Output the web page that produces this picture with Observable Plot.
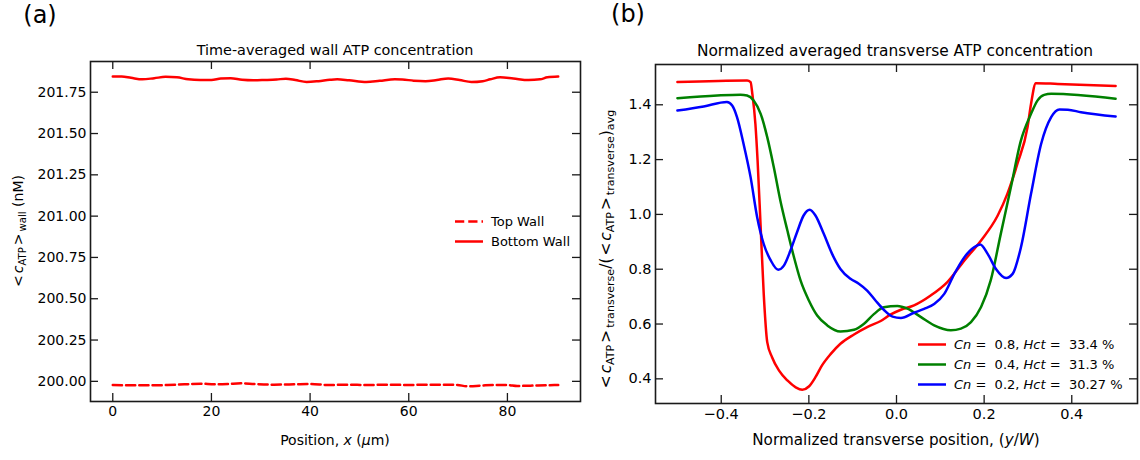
<!DOCTYPE html>
<html><head><meta charset="utf-8">
<script src="https://cdn.jsdelivr.net/npm/d3@7"></script>
<script src="https://cdn.jsdelivr.net/npm/@observablehq/plot@0.6"></script>
<style>
body{margin:0;background:#fff;font-family:"DejaVu Sans",sans-serif;color:#000;}
#wrap{position:relative;width:1140px;height:460px;overflow:hidden;background:#fff;}
.panel{position:absolute;top:0;}
.t{position:absolute;white-space:nowrap;transform:translate(-50%,-50%);line-height:1;}
.rot{transform:translate(-50%,-50%) rotate(-90deg);}
.leg{position:absolute;white-space:nowrap;font-size:13px;line-height:1;display:flex;align-items:center;transform:translateY(-50%);}
.leg svg{margin-right:8px;}
sub{font-size:0.72em;vertical-align:-0.28em;line-height:0;}
.rel{margin:0 2px;}
</style></head>
<body><div id="wrap"></div>
<script>
// ---------- Panel (a) data ----------
const bottomX = [0,1.8,3.7,6.0,8.4,10.7,13.0,15.3,17.7,20.0,21.9,23.9,26.2,28.5,30.8,33.2,35.1,37.0,39.3,41.7,44.0,45.5,47.9,51.4,54.1,57.2,58.7,61.0,63.4,65.7,68.0,70.3,72.7,75.0,76.5,78.5,81.2,84.3,86.6,88.1,90.3];
const bottomWall = [201.845,201.845,201.837,201.828,201.835,201.843,201.840,201.828,201.824,201.824,201.833,201.835,201.825,201.822,201.824,201.827,201.832,201.824,201.812,201.817,201.825,201.828,201.822,201.812,201.819,201.828,201.827,201.820,201.817,201.824,201.833,201.824,201.812,201.817,201.828,201.840,201.833,201.824,201.828,201.840,201.845];
const topX = [0,3.7,7.1,11.1,14.5,17.9,20.6,23.3,26.0,28.7,32.7,36.8,40.2,43.6,47.6,51.7,55.7,59.8,63.8,67.9,69.9,71.9,74.6,77.3,80.0,82.0,84.7,88.1,90.3];
const topWall = [199.978,199.976,199.976,199.978,199.982,199.986,199.982,199.984,199.988,199.984,199.980,199.982,199.984,199.978,199.980,199.978,199.980,199.978,199.980,199.980,199.978,199.970,199.974,199.978,199.978,199.972,199.974,199.976,199.978];
const xTicksA = [0,20,40,60,80];
const yTicksA = [200.00,200.25,200.50,200.75,201.00,201.25,201.50,201.75];
const legendA = ["Top Wall","Bottom Wall"];

// ---------- Panel (b) data ----------
const cn08X = [-0.50,-0.341,-0.333,-0.329,-0.322,-0.317,-0.310,-0.303,-0.295,-0.284,-0.268,-0.249,-0.230,-0.215,-0.200,-0.185,-0.170,-0.150,-0.128,-0.097,-0.067,-0.036,-0.013,0.010,0.040,0.078,0.116,0.155,0.193,0.231,0.253,0.276,0.299,0.307,0.318,0.368,0.50];
const cn08Y = [1.483,1.489,1.483,1.440,1.330,1.196,0.953,0.710,0.534,0.479,0.430,0.394,0.369,0.360,0.372,0.406,0.449,0.491,0.528,0.562,0.589,0.611,0.635,0.652,0.668,0.704,0.753,0.832,0.905,0.996,1.075,1.185,1.318,1.403,1.479,1.476,1.469];
const cn04X = [-0.50,-0.409,-0.356,-0.341,-0.326,-0.310,-0.295,-0.280,-0.265,-0.249,-0.234,-0.219,-0.200,-0.181,-0.158,-0.128,-0.097,-0.074,-0.051,-0.029,0.002,0.025,0.056,0.086,0.124,0.147,0.170,0.193,0.215,0.238,0.261,0.284,0.307,0.322,0.337,0.353,0.50];
const cn04Y = [1.424,1.434,1.437,1.434,1.416,1.367,1.282,1.172,1.050,0.941,0.844,0.759,0.686,0.631,0.595,0.573,0.579,0.601,0.637,0.661,0.666,0.656,0.625,0.595,0.577,0.583,0.607,0.662,0.759,0.929,1.099,1.270,1.367,1.416,1.436,1.440,1.422];
const cn02X = [-0.50,-0.440,-0.387,-0.375,-0.364,-0.349,-0.333,-0.318,-0.303,-0.287,-0.270,-0.257,-0.242,-0.227,-0.212,-0.198,-0.185,-0.166,-0.147,-0.128,-0.105,-0.086,-0.067,-0.048,-0.029,-0.009,0.010,0.040,0.063,0.086,0.109,0.132,0.155,0.177,0.191,0.208,0.227,0.250,0.265,0.284,0.307,0.330,0.353,0.372,0.391,0.421,0.50];
const cn02Y = [1.379,1.394,1.410,1.397,1.355,1.257,1.136,0.990,0.892,0.832,0.798,0.813,0.868,0.935,0.996,1.017,0.996,0.929,0.856,0.801,0.765,0.747,0.722,0.686,0.652,0.627,0.622,0.641,0.655,0.673,0.710,0.783,0.844,0.880,0.890,0.856,0.801,0.768,0.783,0.880,1.075,1.257,1.355,1.383,1.382,1.373,1.357];
const xTicksB = [-0.4,-0.2,0.0,0.2,0.4];
const yTicksB = [0.4,0.6,0.8,1.0,1.2,1.4];
const legendB = [["0.8","33.4"],["0.4","31.3"],["0.2","30.27"]];

const RED="#ff0000", GREEN="#008000", BLUE="#0000ff", AX="#1a1a1a";
const TICK=8;
const wrap = document.getElementById("wrap");

function ticksAndFrame(xT, yT, pw, ph, fx, fy, padX, padY, fs){
  return [
    Plot.ruleX(xT, {insetTop: ph - TICK, stroke: AX, strokeWidth: 1.3}),
    Plot.ruleX(xT, {insetBottom: ph - TICK, stroke: AX, strokeWidth: 1.3}),
    Plot.ruleY(yT, {insetRight: pw - TICK, stroke: AX, strokeWidth: 1.3}),
    Plot.ruleY(yT, {insetLeft: pw - TICK, stroke: AX, strokeWidth: 1.3}),
    Plot.axisX({ticks: xT, tickSize: 0, tickPadding: padX, tickFormat: fx, label: null, fontSize: fs}),
    Plot.axisY({ticks: yT, tickSize: 0, tickPadding: padY, tickFormat: fy, label: null, fontSize: fs}),
    Plot.frame({stroke: AX, strokeWidth: 1.6})
  ];
}

// ---------- Panel (a) ----------
const A = {w:600, h:460, l:90, r:20, t:61, b:59};
const plotA = Plot.plot({
  width: A.w, height: A.h,
  marginLeft: A.l, marginRight: A.r, marginTop: A.t, marginBottom: A.b,
  x: {domain: [-4.515, 94.815]},
  y: {domain: [199.878, 201.936]},
  style: {fontFamily: '"DejaVu Sans", sans-serif', fontSize: "14px", color: "#000", background: "transparent", overflow: "visible"},
  marks: [
    Plot.line(topWall, {x: topX, y: d => d, stroke: RED, strokeWidth: 2.5, strokeDasharray: "9.25,4", curve: "monotone-x"}),
    Plot.line(bottomWall, {x: bottomX, y: d => d, stroke: RED, strokeWidth: 2.5, curve: "monotone-x"}),
    ...ticksAndFrame(xTicksA, yTicksA, A.w - A.l - A.r, A.h - A.t - A.b, d3.format("d"), d3.format(".2f"), 5, 4, 14)
  ]
});
plotA.classList.add("panel");
plotA.style.left = "0px";
wrap.appendChild(plotA);

// ---------- Panel (b) ----------
const B = {w:540, h:460, l:55, r:3, t:64, b:57};
const plotB = Plot.plot({
  width: B.w, height: B.h,
  marginLeft: B.l, marginRight: B.r, marginTop: B.t, marginBottom: B.b,
  x: {domain: [-0.55, 0.55]},
  y: {domain: [0.310, 1.547]},
  style: {fontFamily: '"DejaVu Sans", sans-serif', fontSize: "14.5px", color: "#000", background: "transparent", overflow: "visible"},
  marks: [
    Plot.line(cn08Y, {x: cn08X, y: d => d, stroke: RED, strokeWidth: 2.5, curve: "monotone-x"}),
    Plot.line(cn04Y, {x: cn04X, y: d => d, stroke: GREEN, strokeWidth: 2.5, curve: "monotone-x"}),
    Plot.line(cn02Y, {x: cn02X, y: d => d, stroke: BLUE, strokeWidth: 2.5, curve: "monotone-x"}),
    ...ticksAndFrame(xTicksB, yTicksB, B.w - B.l - B.r, B.h - B.t - B.b, d3.format(".1f"), d3.format(".1f"), 5, 4, 14.5)
  ]
});
plotB.classList.add("panel");
plotB.style.left = "600px";
wrap.appendChild(plotB);

// ---------- Texts ----------
function addText(html, x, y, size, extra){
  const d = document.createElement("div");
  d.className = "t" + (extra ? " " + extra : "");
  d.style.left = x + "px"; d.style.top = y + "px"; d.style.fontSize = size + "px";
  d.innerHTML = html;
  wrap.appendChild(d);
}
addText("(a)", 40, 15, 24);
addText("(b)", 628, 14, 24);
addText("Time-averaged wall ATP concentration", 335, 50, 14.4);
addText("Normalized averaged transverse ATP concentration", 895, 52, 15.4);
addText("Position, <i>x</i> (<i>μ</i>m)", 335, 440, 14);
addText("Normalized transverse position, (<i>y</i>/<i>W</i>)", 896, 441, 15.2);
addText('<span class="rel">&lt;</span><i>c</i><sub>ATP</sub><span class="rel">&gt;</span><sub>wall</sub> (nM)', 18, 232, 14, "rot");
addText('<span class="rel">&lt;</span><i>c</i><sub>ATP</sub><span class="rel">&gt;</span><sub>transverse</sub>/(<span class="rel">&lt;</span><i>c</i><sub>ATP</sub><span class="rel">&gt;</span><sub>transverse</sub>)<sub>avg</sub>', 607, 250, 15.4, "rot");

// ---------- Legends ----------
function legendRow(x, y, color, dash, html){
  const d = document.createElement("div");
  d.className = "leg";
  d.style.left = x + "px"; d.style.top = y + "px";
  d.innerHTML = `<svg width="28" height="6"><line x1="0" y1="3" x2="28" y2="3" stroke="${color}" stroke-width="2.5" ${dash ? 'stroke-dasharray="9.25,4"' : ''}/></svg><span>${html}</span>`;
  wrap.appendChild(d);
}
legendRow(455, 221, RED, true, legendA[0]);
legendRow(455, 241, RED, false, legendA[1]);
const colsB = [RED, GREEN, BLUE];
legendB.forEach((r, i) => legendRow(918, 344 + 20 * i, colsB[i], false, `<i>Cn</i> = &nbsp;${r[0]}, <i>Hct</i> = &nbsp;${r[1]} %`));
</script>
</body></html>
